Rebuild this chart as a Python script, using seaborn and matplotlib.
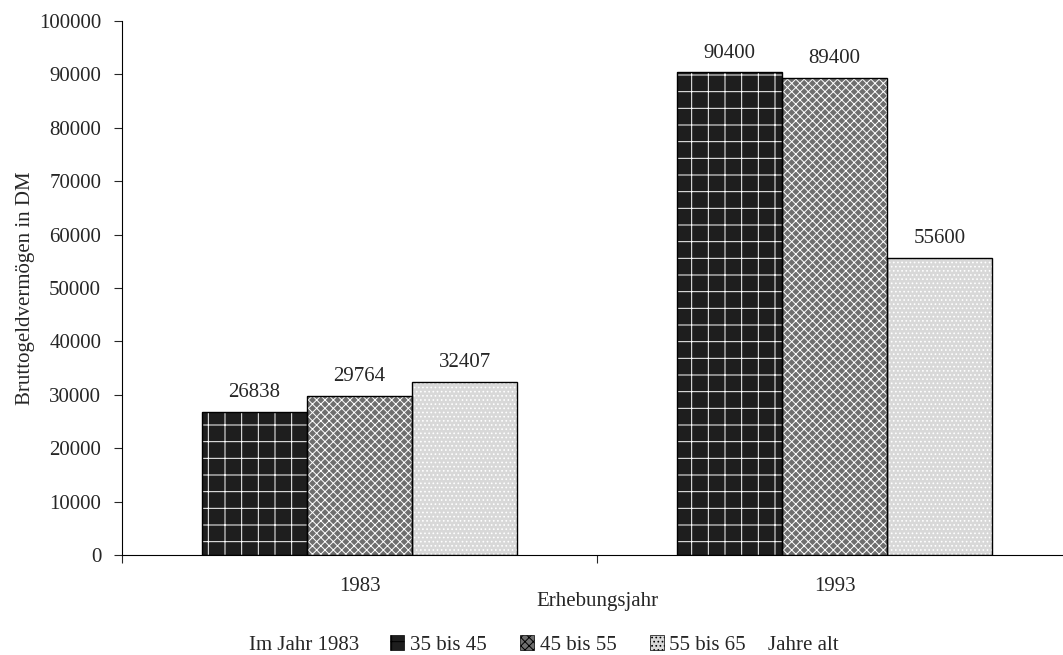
import matplotlib
matplotlib.use('Agg')
import matplotlib.pyplot as plt
from matplotlib.patches import Rectangle, Patch
import pandas as pd
import seaborn as sns

years = ['1983', '1993']
groups = ['35 bis 45', '45 bis 55', '55 bis 65']
v_35_45 = [26838, 90400]
v_45_55 = [29764, 89400]
v_55_65 = [32407, 55600]

df = pd.DataFrame({
    'Jahr': years * 3,
    'Alter': [g for g in groups for _ in years],
    'Wert': v_35_45 + v_45_55 + v_55_65,
})

sns.set_style('ticks')
plt.rcParams['font.family'] = ['Liberation Serif', 'DejaVu Serif']
plt.rcParams['hatch.linewidth'] = 0.7
fs = 15

faces = ['#1e1e1e', '#6e6e6e', '#d8d8d8']
hatches = ['+', 'xxxx', '....']

fig = plt.figure(figsize=(10.63, 6.55), dpi=100)
ax = fig.add_axes([122/1063, 100/655, 950/1063, 534/655])

sns.barplot(data=df, x='Jahr', y='Wert', hue='Alter', palette=faces,
            width=0.665, gap=0, saturation=1, legend=False, ax=ax)

for cont, h in zip(ax.containers, hatches):
    for p in cont:
        p.set_hatch(h)
        p.set_edgecolor('white')
        p.set_linewidth(0)
        ax.add_patch(Rectangle(p.get_xy(), p.get_width(), p.get_height(),
                               fill=False, edgecolor='black', linewidth=1.0, zorder=p.get_zorder() + 0.1))
    ax.bar_label(cont, labels=[f'{v:.0f}' for v in cont.datavalues], padding=7, fontsize=fs)

ax.set_ylim(0, 100000)
ax.set_yticks(range(0, 100001, 10000))
ax.set_xlim(-0.5, 1.5)
ax.set_xticks([-0.5, 0.5, 1.5], minor=True)
ax.tick_params(axis='x', which='major', length=0, labelsize=fs, pad=16)
ax.tick_params(axis='x', which='minor', length=6, direction='out', width=0.8)
ax.tick_params(axis='y', length=6, direction='out', width=0.8, labelsize=fs, pad=9)
ax.set_xlabel('Erhebungsjahr', fontsize=fs, labelpad=-3)
ax.set_ylabel('Bruttogeldvermögen in DM', fontsize=fs, labelpad=3)
for s in ['top', 'right']:
    ax.spines[s].set_visible(False)
for s in ['left', 'bottom']:
    ax.spines[s].set_linewidth(0.8)
    ax.spines[s].set_color('black')

ly = 1 - 645/655
handles = [Patch(facecolor=f, hatch=h, edgecolor='black', linewidth=0.5) for f, h in zip(faces, hatches)]
fig.legend(handles, groups, loc='center', bbox_to_anchor=(568/1063, ly), ncol=3,
           frameon=False, fontsize=fs, handlelength=0.7, handleheight=0.7,
           handletextpad=0.25, columnspacing=1.6, borderpad=0, borderaxespad=0)
fig.text(304/1063, ly, 'Im Jahr 1983', ha='center', va='center', fontsize=fs)
fig.text(803/1063, ly, 'Jahre alt', ha='center', va='center', fontsize=fs)

fig.savefig('out.png', dpi=100)
